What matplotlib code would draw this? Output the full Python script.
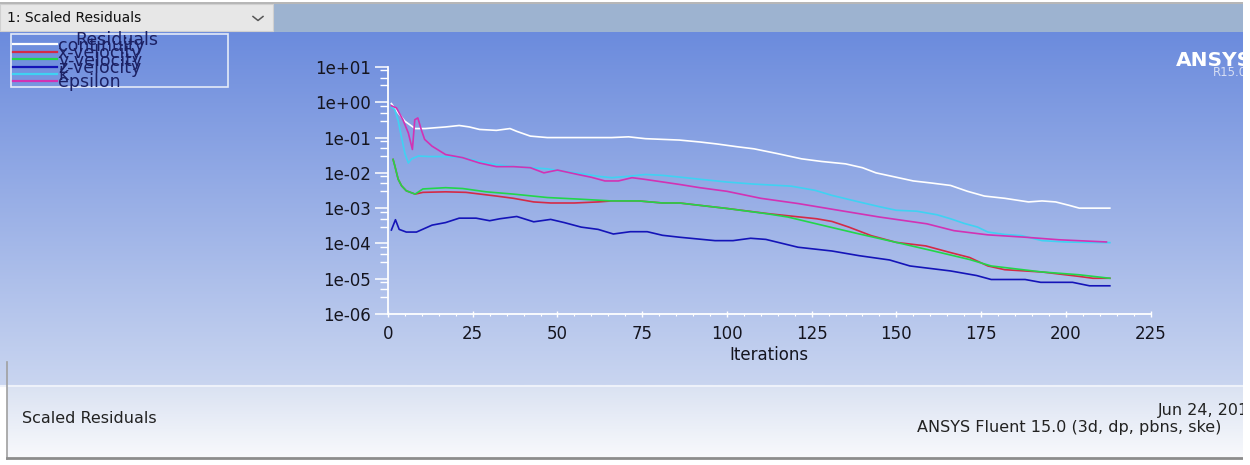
import numpy as np
import matplotlib
matplotlib.use("Agg")
import matplotlib.pyplot as plt
from matplotlib.patches import Rectangle
from matplotlib.lines import Line2D
from matplotlib.ticker import FixedLocator, LogLocator, NullFormatter, MultipleLocator, FuncFormatter
from matplotlib.colors import to_rgb

# ---- residual histories -------------------------------------------------
continuity_it = [1, 3, 5, 8, 11, 14, 17, 21, 24, 27, 32, 36, 38, 42, 47, 52, 60, 66, 71,
                 76, 86, 92, 97, 103, 108, 115, 122, 128, 135, 140, 144, 150, 155, 160,
                 166, 171, 176, 182, 189, 193, 197, 201, 204, 209, 213]
continuity = [0.92, 0.5, 0.29, 0.18, 0.18, 0.19, 0.2, 0.22, 0.2, 0.17, 0.16, 0.18, 0.15,
              0.11, 0.1, 0.1, 0.1, 0.1, 0.105, 0.093, 0.085, 0.075, 0.066, 0.055, 0.048,
              0.035, 0.025, 0.021, 0.018, 0.014, 0.010, 0.0075, 0.0059, 0.0052, 0.0044,
              0.003, 0.0022, 0.0019, 0.0015, 0.0016, 0.0015, 0.0012, 0.001, 0.001, 0.001]

xvel_it = [1.5, 2, 3, 4, 5.4, 8, 10.3, 17, 23, 32, 37, 43, 48, 55, 62, 66, 74, 81, 86, 92,
           100, 112.6, 126.5, 131, 136, 142.6, 150, 158.7, 166, 171.6, 177, 182, 193,
           203.7, 208, 213]
xvel = [0.024, 0.016, 0.0066, 0.0043, 0.0031, 0.0025, 0.0028, 0.0029, 0.0028, 0.0022,
        0.0019, 0.0015, 0.0014, 0.0014, 0.0015, 0.0016, 0.0016, 0.0014, 0.0014, 0.0012,
        0.00098, 0.00069, 0.0005, 0.00042, 0.00029, 0.000166, 0.000107, 0.000085,
        0.000055, 0.00004, 0.000023, 0.000018, 0.0000155, 0.0000117, 0.0000103, 0.0000103]

yvel_it = [1.5, 2, 3, 4, 5.4, 8, 10.3, 17, 22, 29, 37, 47, 56.5, 66, 74, 81, 86, 92, 100,
           112, 118, 128.6, 139, 150, 161, 171.6, 178, 193, 203.7, 213]
yvel = [0.024, 0.016, 0.0066, 0.0043, 0.0031, 0.0025, 0.0035, 0.0038, 0.0036, 0.0029,
        0.0025, 0.002, 0.0018, 0.0016, 0.0016, 0.0014, 0.0014, 0.0012, 0.00098, 0.00069,
        0.00056, 0.00032, 0.000186, 0.000107, 0.000061, 0.000035, 0.000023, 0.0000155,
        0.000013, 0.0000103]

zvel_it = [1, 2.2, 3.3, 5.4, 8.4, 13, 17, 21, 26, 30, 33, 38, 43, 48, 52, 57, 62, 66.5,
           71.5, 76.5, 81, 86, 96.5, 101.8, 107, 111.5, 121, 131, 139, 148, 154, 166,
           173.7, 178, 188, 192.6, 202, 207, 213]
zvel = [2.4e-4, 4.7e-4, 2.5e-4, 2.1e-4, 2.1e-4, 3.3e-4, 3.9e-4, 5.2e-4, 5.2e-4, 4.4e-4,
        5e-4, 5.8e-4, 4.1e-4, 4.8e-4, 3.9e-4, 2.9e-4, 2.5e-4, 1.85e-4, 2.15e-4, 2.15e-4,
        1.7e-4, 1.5e-4, 1.2e-4, 1.2e-4, 1.4e-4, 1.3e-4, 7.8e-5, 6.1e-5, 4.5e-5, 3.4e-5,
        2.3e-5, 1.66e-5, 1.23e-5, 9.5e-6, 9.5e-6, 7.9e-6, 7.9e-6, 6.3e-6, 6.3e-6]

k_it = [1, 2, 3, 4, 5, 6, 7, 9, 12, 17, 22, 27, 32, 37, 42, 47, 52, 57, 62, 66, 71, 76,
        81, 86, 92, 100, 108, 119, 126, 131, 139, 145, 150, 156, 162, 166, 170, 174, 177,
        182, 187, 193, 200, 206, 213]
k = [0.75, 0.62, 0.3, 0.1, 0.035, 0.019, 0.025, 0.03, 0.029, 0.029, 0.027, 0.021, 0.017,
     0.015, 0.014, 0.013, 0.011, 0.0095, 0.008, 0.0073, 0.008, 0.009, 0.0085, 0.0076,
     0.0066, 0.0055, 0.0048, 0.0042, 0.0032, 0.0023, 0.0015, 0.0011, 0.00087, 0.00082,
     0.00065, 0.0005, 0.00037, 0.00029, 0.00021, 0.00018, 0.000166, 0.00012, 0.00011,
     0.000107, 0.000105]

eps_it = [1, 2.5, 4.4, 6, 7.2, 7.9, 8.8, 9.8, 10.8, 13, 17, 22, 27, 32, 37, 42, 46, 50,
          56, 60, 64, 68, 72, 76, 86, 92, 100, 110, 121, 132, 145, 159, 167, 177, 188,
          198, 212]
eps = [0.8, 0.69, 0.32, 0.135, 0.046, 0.32, 0.36, 0.17, 0.089, 0.057, 0.033, 0.027, 0.019,
       0.015, 0.015, 0.014, 0.01, 0.012, 0.009, 0.0075, 0.0059, 0.0059, 0.0073, 0.0065,
       0.0047, 0.0038, 0.003, 0.0019, 0.00135, 0.0009, 0.00056, 0.00036, 0.00023,
       0.000175, 0.00015, 0.000127, 0.00011]

series_names = ["continuity", "x-velocity", "y-velocity", "z-velocity", "k", "epsilon"]
series_colors = ["#ffffff", "#d42a46", "#22d64a", "#1414b8", "#3fd2f2", "#d232b4"]

x_ticks = [0, 25, 50, 75, 100, 125, 150, 175, 200, 225]
y_decades = [-6, -5, -4, -3, -2, -1, 0, 1]

W, H = 1250, 465
fig = plt.figure(figsize=(W / 100, H / 100), dpi=100)
fig.patch.set_facecolor("white")

# ---- window chrome in pixel coordinates --------------------------------
bg = fig.add_axes([0, 0, 1, 1])
bg.set_xlim(0, W)
bg.set_ylim(H, 0)
bg.axis("off")


def vgrad(c0, c1, n=256):
    a, b = np.array(to_rgb(c0)), np.array(to_rgb(c1))
    t = np.linspace(0, 1, n)[:, None]
    return (a * (1 - t) + b * t)[:, None, :]


# top tool bar
bg.add_patch(Rectangle((0, 4), 1243, 28, facecolor="#9db3d0", edgecolor="none"))
bg.plot([0, 1243], [3.5, 3.5], color="#a9a9a9", lw=1.2)
bg.add_patch(Rectangle((0, 4.5), 273, 27, facecolor="#e7e7e7", edgecolor="#d0d0d0", lw=0.8))
bg.text(7, 18.5, "1: Scaled Residuals", fontsize=10, family="DejaVu Sans",
        color="#111111", va="center", ha="left")
bg.plot([253, 258, 263], [16.5, 20.5, 16.5], color="#555555", lw=1.1)

# graphics panel gradient
bg.imshow(vgrad("#6b8bdd", "#c9d5f0"), extent=(0, 1243, 385, 32), aspect="auto",
          interpolation="bilinear", zorder=0)
bg.plot([0, 1243], [385.5, 385.5], color="#eef2fa", lw=1.5, zorder=1)
bg.imshow(vgrad("#dae2f2", "#f8f9fc"), extent=(7, 1243, 457, 386), aspect="auto",
          interpolation="bilinear", zorder=0)
bg.plot([7, 7], [362, 459], color="#a0a0a0", lw=1.2, zorder=2)
bg.plot([7, 1243], [458, 458], color="#8c8c8c", lw=2.0, zorder=2)

# vendor mark (clipped by the panel edge)
bg.text(1176, 60, "ANSYS", fontsize=14.5, fontweight="bold", color="white",
        va="center", ha="left", family="DejaVu Sans", zorder=3)
bg.text(1213, 73, "R15.0", fontsize=8.5, color="#d6def3", va="center", ha="left",
        family="DejaVu Sans", zorder=3)

# footer text
bg.text(22, 418, "Scaled Residuals", fontsize=11.5, color="#222222", va="center",
        ha="left", family="DejaVu Sans", zorder=3)
bg.text(1158, 410, "Jun 24, 2015", fontsize=11.5, color="#222222", va="center",
        ha="left", family="DejaVu Sans", zorder=3)
bg.text(917, 427, "ANSYS Fluent 15.0 (3d, dp, pbns, ske)", fontsize=11.5, color="#222222",
        va="center", ha="left", family="DejaVu Sans", zorder=3)

# legend
lx0, ly0, lx1, ly1 = 10.7, 34.3, 227.7, 87.3
frame = Rectangle((lx0, ly0), lx1 - lx0, ly1 - ly0, facecolor="none",
                  edgecolor="#e4ebf8", lw=1.2, zorder=4)
bg.add_patch(frame)
t = bg.text(117, 40, "Residuals", fontsize=12.5, color="#1c2164", va="center",
            ha="center", family="DejaVu Sans", zorder=4)
t.set_clip_path(frame)
leg_y = [44.3, 51.7, 59.3, 66.7, 74.0, 80.7]
for name, col, yy in zip(series_names, series_colors, leg_y):
    bg.add_line(Line2D([12.7, 56.7], [yy, yy], color=col, lw=1.6, zorder=4))
    tt = bg.text(58, yy + 1.5, name, fontsize=12.5, color="#1c2164", va="center",
                 ha="left", family="DejaVu Sans", zorder=4)
    tt.set_clip_path(frame)

# right edge of the window
bg.add_patch(Rectangle((1243, 0), 10, H, facecolor="white", edgecolor="none", zorder=10))

# ---- residual plot ------------------------------------------------------
x_px0, x_px1 = 388.0, 1150.5
y_px_top, y_px_bot = 67.0, 314.0
ax = fig.add_axes([x_px0 / W, (H - y_px_bot) / H, (x_px1 - x_px0) / W,
                   (y_px_bot - y_px_top) / H])
ax.set_facecolor("none")
ax.set_yscale("log")
ax.set_xlim(x_ticks[0], x_ticks[-1])
ax.set_ylim(10.0 ** y_decades[0], 10.0 ** y_decades[-1])

all_series = [(continuity_it, continuity), (xvel_it, xvel), (yvel_it, yvel),
              (zvel_it, zvel), (k_it, k), (eps_it, eps)]
for (it, vals), col in zip(all_series, series_colors):
    ax.plot(it, vals, color=col, lw=1.2, solid_joinstyle="round")

for side in ("top", "right"):
    ax.spines[side].set_visible(False)
for side in ("left", "bottom"):
    ax.spines[side].set_color("white")
    ax.spines[side].set_linewidth(1.3)

ax.xaxis.set_major_locator(FixedLocator(x_ticks))
ax.xaxis.set_minor_locator(MultipleLocator(5))
ax.yaxis.set_major_locator(FixedLocator([10.0 ** d for d in y_decades]))
ax.yaxis.set_minor_locator(LogLocator(base=10, subs=(3, 5, 8)))
ax.yaxis.set_minor_formatter(NullFormatter())
ax.yaxis.set_major_formatter(FuncFormatter(lambda v, p: "1e%+03d" % round(np.log10(v))))

label_col = "#15151f"
ax.tick_params(axis="y", which="major", direction="out", length=9.5, width=1.1,
               color="white", labelcolor=label_col, labelsize=12, pad=3)
ax.tick_params(axis="y", which="minor", direction="out", length=5.5, width=1.0,
               color="white")
ax.tick_params(axis="x", which="major", direction="inout", length=4, width=1.0,
               color="white", labelcolor=label_col, labelsize=12, pad=6)
ax.tick_params(axis="x", which="minor", direction="out", length=1.5, width=0.8,
               color="white")
ax.set_xlabel("Iterations", fontsize=12, color=label_col, labelpad=2)

fig.savefig("out.png", dpi=100, facecolor=fig.get_facecolor())
